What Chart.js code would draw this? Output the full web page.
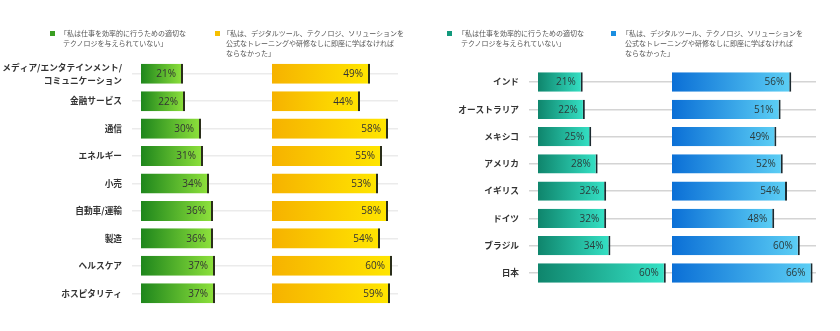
<!DOCTYPE html>
<html>
<head>
<meta charset="utf-8">
<script src="https://cdn.jsdelivr.net/npm/chart.js@4.4.1/dist/chart.umd.min.js"></script>
<style>
  html, body { margin: 0; padding: 0; background: #fff; }
  #wrap { position: relative; width: 840px; height: 331px; overflow: hidden; background: #fff; }
  canvas { position: absolute; top: 0; }
  .sw { position: absolute; width: 5px; height: 5px; }
  .lt { position: absolute; font-family: "Noto Sans CJK JP", "Noto Sans", sans-serif; font-size: 7px; line-height: 10px; color: #555; white-space: nowrap; }
</style>
</head>
<body>
<div id="wrap">
  <canvas id="c1" width="420" height="331" style="left:0;width:420px;height:331px"></canvas>
  <canvas id="c2" width="420" height="331" style="left:420px;width:420px;height:331px"></canvas>

  <div class="sw" style="left:50px;top:31px;background:#3a9e22"></div>
  <div class="lt" style="left:60px;top:28px">「私は仕事を効率的に行うための適切な</div>
  <div class="lt" style="left:63px;top:38px">テクノロジを与えられていない」</div>

  <div class="sw" style="left:215px;top:31px;background:#f6c000"></div>
  <div class="lt" style="left:223px;top:28px">「私は、デジタルツール、テクノロジ、ソリューションを</div>
  <div class="lt" style="left:226px;top:38px">公式なトレーニングや研修なしに即座に学ばなければ</div>
  <div class="lt" style="left:226px;top:48px">ならなかった」</div>

  <div class="sw" style="left:447px;top:31px;background:#12997c"></div>
  <div class="lt" style="left:458px;top:28px">「私は仕事を効率的に行うための適切な</div>
  <div class="lt" style="left:461px;top:38px">テクノロジを与えられていない」</div>

  <div class="sw" style="left:611px;top:31px;background:#1a8ee0"></div>
  <div class="lt" style="left:622px;top:28px">「私は、デジタルツール、テクノロジ、ソリューションを</div>
  <div class="lt" style="left:625px;top:38px">公式なトレーニングや研修なしに即座に学ばなければ</div>
  <div class="lt" style="left:625px;top:48px">ならなかった」</div>
</div>
<script>
// ---- data ----
const industries = [['メディア/エンタテインメント/', 'コミュニケーション'], '金融サービス', '通信', 'エネルギー', '小売', '自動車/運輸', '製造', 'ヘルスケア', 'ホスピタリティ'];
const industryNoTech = [21, 22, 30, 31, 34, 36, 36, 37, 37];
const industrySelfLearn = [49, 44, 58, 55, 53, 58, 54, 60, 59];

const countries = ['インド', 'オーストラリア', 'メキシコ', 'アメリカ', 'イギリス', 'ドイツ', 'ブラジル', '日本'];
const countryNoTech = [21, 22, 25, 28, 32, 32, 34, 60];
const countrySelfLearn = [56, 51, 49, 52, 54, 48, 60, 66];

// ---- helpers ----
function grad(c0, c1) {
  return (ctx) => {
    const chart = ctx.chart;
    if (!chart.chartArea || ctx.type !== 'data') return c1;
    const xs = chart.scales.x;
    const raw = ctx.raw;
    const a = Array.isArray(raw) ? raw[0] : 0;
    const b = Array.isArray(raw) ? raw[1] : raw;
    const x0 = xs.getPixelForValue(a), x1 = xs.getPixelForValue(b);
    const g = chart.ctx.createLinearGradient(x0, 0, x1, 0);
    g.addColorStop(0, c0);
    g.addColorStop(1, c1);
    return g;
  };
}

const valueLabels = {
  id: 'valueLabels',
  afterDatasetsDraw(chart, args, opts) {
    const ctx = chart.ctx;
    ctx.save();
    ctx.font = '10px "Open Sans", "Noto Sans", sans-serif';
    ctx.textAlign = 'right';
    ctx.textBaseline = 'middle';
    ctx.fillStyle = opts.color || '#333';
    chart.data.datasets.forEach((ds, di) => {
      const meta = chart.getDatasetMeta(di);
      meta.data.forEach((bar, i) => {
        ctx.fillText(ds.values[i] + '%', bar.x - 7, bar.y + 0.5);
      });
    });
    ctx.restore();
  }
};

function makeChart(id, labels, a, b, offset, opt) {
  const ds = (vals, c0, c1, off) => ({
    data: off == null ? vals.slice() : vals.map(v => [off, off + v]),
    values: vals,
    backgroundColor: grad(c0, c1),
    borderColor: opt.edge,
    borderWidth: { top: 0, bottom: 0, left: 0, right: 2 },
    borderSkipped: false,
    grouped: false,
    barPercentage: opt.barPct,
    categoryPercentage: 1
  });
  return new Chart(document.getElementById(id), {
    type: 'bar',
    data: {
      labels: labels,
      datasets: [
        ds(a, opt.c[0], opt.c[1], null),
        ds(b, opt.c[2], opt.c[3], offset)
      ]
    },
    options: {
      indexAxis: 'y',
      responsive: false,
      animation: false,
      layout: { padding: opt.pad },
      plugins: {
        legend: { display: false },
        tooltip: { enabled: false },
        valueLabels: { color: opt.textColor }
      },
      scales: {
        x: { type: 'linear', display: false, min: 0, max: opt.max },
        y: {
          afterFit: (s) => { s.width = opt.axisW; },
          border: { display: false },
          grid: { offset: false, color: opt.gridColor, lineWidth: 1.5, drawTicks: true, tickLength: 9 },
          ticks: {
            autoSkip: false,
            padding: 10,
            color: '#333',
            font: { family: '"Noto Sans CJK JP", "Noto Sans", sans-serif', size: 8.7, weight: 'bold', lineHeight: 1.5 }
          }
        }
      }
    },
    plugins: [valueLabels]
  });
}

makeChart('c1', industries, industryNoTech, industrySelfLearn, 65.5, {
  c: ['#1e861c', '#8fe23c', '#f6b200', '#ffe600'],
  edge: '#2a2e1a',
  barPct: 0.73,
  pad: { top: 60, bottom: 24, left: 0, right: 22 },
  axisW: 141,
  max: 128.5,
  gridColor: '#ebebeb',
  textColor: '#333'
});

makeChart('c2', countries, countryNoTech, countrySelfLearn, 62.9, {
  c: ['#0f856c', '#35e2c6', '#0b6fd6', '#5ccff5'],
  edge: '#1c2a30',
  barPct: 0.71,
  pad: { top: 68.4, bottom: 44.4, left: 0, right: 24 },
  axisW: 118,
  max: 130.5,
  gridColor: '#d4d4d4',
  textColor: '#2b3b3b'
});
</script>
</body>
</html>
